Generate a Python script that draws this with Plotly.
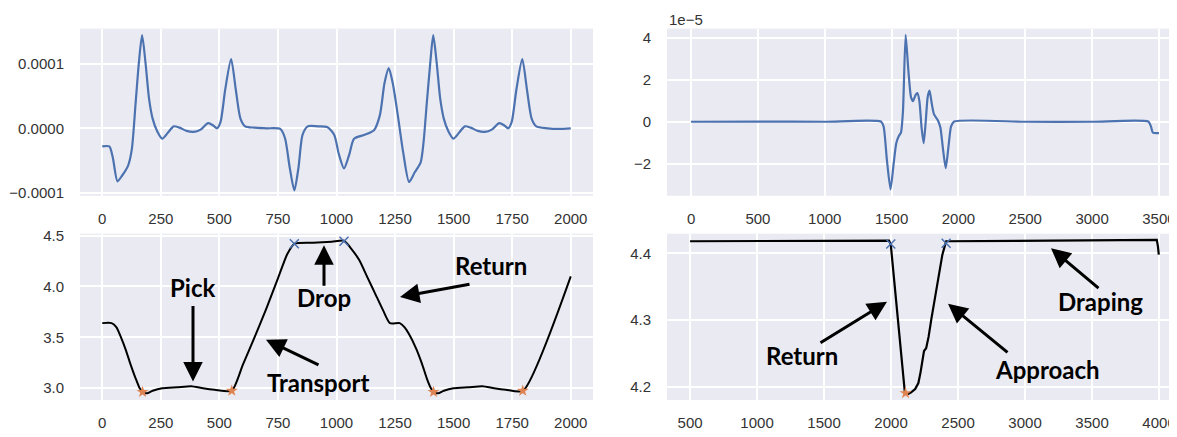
import plotly.graph_objects as go

# page body has an 8px margin; the figure is placed at (8, 8)
OFF = 8
W, H = 1177 - OFF, 437 - OFF

# ---------------- data ----------------
# top-left signal (values in units of 1e-4)
tl_x = [0, 30, 45, 65, 85, 110, 126, 142, 156, 170, 185, 200, 215, 235, 256, 280, 305, 330, 360, 390, 420,
        452, 475, 490, 505, 525, 550, 570, 590, 610, 650, 700, 760, 780, 800, 820, 838, 855, 877, 920, 960,
        990, 1010, 1032, 1055, 1075, 1120, 1160, 1185, 1205, 1223, 1240, 1261, 1285, 1310, 1334, 1359, 1372,
        1385, 1400, 1413, 1428, 1443, 1458, 1478, 1499, 1523, 1548, 1573, 1603, 1633, 1663, 1695, 1718, 1733,
        1748, 1768, 1793, 1813, 1833, 1853, 1900, 1950, 2000]
tl_y = [-0.28, -0.28, -0.45, -0.82, -0.73, -0.58, -0.33, 0.37, 1.0, 1.44, 1.0, 0.45, 0.15, -0.05, -0.16, -0.07,
        0.03, 0.01, -0.04, -0.055, -0.02, 0.08, 0.04, 0.0, 0.1, 0.6, 1.07, 0.6, 0.15, 0.03, 0.01, 0.0, -0.01,
        -0.15, -0.6, -0.96, -0.6, -0.1, 0.03, 0.03, 0.02, -0.1, -0.4, -0.62, -0.4, -0.16, -0.1, -0.03, 0.2, 0.7,
        0.93, 0.7, 0.22, -0.38, -0.83, -0.68, -0.53, -0.2, 0.37, 1.0, 1.44, 1.0, 0.45, 0.15, -0.05, -0.16,
        -0.07, 0.03, 0.01, -0.04, -0.055, -0.02, 0.08, 0.04, 0.0, 0.1, 0.6, 1.07, 0.6, 0.15, 0.03, 0.0, -0.01, 0.0]
TL_SCALE = 1e-4

# top-right signal (values in units of 1e-5)
tr_x = [0, 500, 1000, 1420, 1440, 1465, 1492, 1515, 1535, 1555, 1570, 1585, 1605, 1625, 1645, 1660, 1680,
        1693, 1708, 1725, 1740, 1755, 1770, 1784, 1800, 1817, 1845, 1865, 1885, 1905, 1925, 1945, 1968, 2500,
        3000, 3420, 3440, 3455, 3500]
tr_y = [0.02, 0.03, 0.02, 0.03, -0.2, -1.8, -3.2, -2.0, -1.0, -0.65, -0.5, 0.5, 4.15, 2.5, 1.2, 1.0, 1.3,
        1.38, 1.0, -0.3, -1.0, 0.0, 1.2, 1.5, 0.9, 0.38, 0.1, -0.25, -1.3, -2.18, -1.2, -0.2, 0.03, 0.02,
        0.02, 0.03, -0.2, -0.5, -0.52]
TR_SCALE = 1e-5

# bottom-left position
bl_x = [0, 40, 60, 80, 100, 120, 142, 160, 175, 191, 215, 256, 320, 380, 430, 480, 553, 600, 650, 700, 750,
        790, 820, 900, 980, 1032, 1060, 1097, 1130, 1163, 1200, 1228, 1270, 1290, 1310, 1340, 1365, 1385,
        1403, 1418, 1434, 1458, 1499, 1563, 1623, 1673, 1723, 1796, 2000]
bl_y = [3.64, 3.64, 3.6, 3.5, 3.38, 3.24, 3.1, 3.0, 2.96, 2.95, 2.975, 3.0, 3.01, 3.02, 3.0, 2.985, 2.975,
        3.23, 3.5, 3.78, 4.08, 4.32, 4.42, 4.43, 4.44, 4.45, 4.38, 4.26, 4.1, 3.94, 3.76, 3.64, 3.64, 3.6,
        3.53, 3.39, 3.24, 3.1, 3.0, 2.96, 2.95, 2.975, 3.0, 3.01, 3.02, 3.0, 2.985, 2.975, 4.1]
bl_star_x = [172, 553, 1414, 1795]
bl_star_y = [2.963, 2.975, 2.963, 2.975]
bl_cross_x = [820, 1032]
bl_cross_y = [4.42, 4.445]

# bottom-right position
br_x = [500, 1000, 1500, 1985, 1998, 2050, 2103, 2130, 2150, 2180, 2204, 2220, 2232, 2246, 2262, 2280, 2301,
        2342, 2383, 2411, 3000, 3500, 3983, 3992, 3998]
br_y = [4.418, 4.418, 4.419, 4.419, 4.413, 4.30, 4.192, 4.19, 4.192, 4.197, 4.206, 4.222, 4.24, 4.254,
        4.258, 4.275, 4.302, 4.35, 4.398, 4.418, 4.419, 4.42, 4.42, 4.41, 4.398]
br_star_x = [2108]
br_star_y = [4.191]
br_cross_x = [1998, 2411]
br_cross_y = [4.414, 4.415]

tl_ticks = [-1e-4, 0, 1e-4]
tl_ticktext = ["\u22120.0001", "0.0000", "0.0001"]
tr_ticks = [-2e-5, 0, 2e-5, 4e-5]
tr_ticktext = ["\u22122", "0", "2", "4"]
left_xticks = [0, 250, 500, 750, 1000, 1250, 1500, 1750, 2000]
tr_xticks = [0, 500, 1000, 1500, 2000, 2500, 3000, 3500]
br_xticks = [500, 1000, 1500, 2000, 2500, 3000, 3500, 4000]
bl_yticks = [3.0, 3.5, 4.0, 4.5]
br_yticks = [4.2, 4.3, 4.4]

labels = [  # text, centre px x, centre px y (window pixels)
    ("Pick", 193, 288), ("Drop", 324, 299), ("Return", 491, 266), ("Transport", 318, 386),
    ("Return", 802, 358), ("Approach", 1047, 373), ("Draping", 1100, 303),
]
arrows = [  # head px x, head px y, tail px x, tail px y
    (193, 385, 193, 308), (324, 245, 324, 287), (400, 298, 471, 285), (266, 342, 320, 368),
    (887, 303, 819, 345), (948, 305, 1009, 355), (1051, 248, 1100, 289),
]

# ---------------- figure ----------------
BLUE = "#4C72B0"
ORANGE = "#DD8452"
BG = "#EAEAF2"
TXT = "#333333"


def px(xp):
    return (xp - OFF) / W


def py(yp):
    return 1 - (yp - OFF) / H


fig = go.Figure()
fig.add_trace(go.Scatter(x=tl_x, y=[v * TL_SCALE for v in tl_y], mode="lines",
                         line=dict(color=BLUE, width=2.2, shape="spline", smoothing=0.7),
                         xaxis="x", yaxis="y", showlegend=False))
fig.add_trace(go.Scatter(x=tr_x, y=[v * TR_SCALE for v in tr_y], mode="lines",
                         line=dict(color=BLUE, width=2.2, shape="spline", smoothing=0.6),
                         xaxis="x2", yaxis="y2", showlegend=False))
fig.add_trace(go.Scatter(x=bl_x, y=bl_y, mode="lines",
                         line=dict(color="black", width=2, shape="spline", smoothing=0.6),
                         xaxis="x3", yaxis="y3", showlegend=False))
fig.add_trace(go.Scatter(x=bl_star_x, y=bl_star_y, mode="markers",
                         marker=dict(symbol="star", size=9, color=ORANGE),
                         xaxis="x3", yaxis="y3", showlegend=False))
fig.add_trace(go.Scatter(x=bl_cross_x, y=bl_cross_y, mode="markers",
                         marker=dict(symbol="x-thin", size=9, line=dict(color=BLUE, width=1.5)),
                         xaxis="x3", yaxis="y3", showlegend=False))
fig.add_trace(go.Scatter(x=br_x, y=br_y, mode="lines",
                         line=dict(color="black", width=2.2),
                         xaxis="x4", yaxis="y4", showlegend=False))
fig.add_trace(go.Scatter(x=br_star_x, y=br_star_y, mode="markers",
                         marker=dict(symbol="star", size=9, color=ORANGE),
                         xaxis="x4", yaxis="y4", showlegend=False))
fig.add_trace(go.Scatter(x=br_cross_x, y=br_cross_y, mode="markers",
                         marker=dict(symbol="x-thin", size=9, line=dict(color=BLUE, width=1.5)),
                         xaxis="x4", yaxis="y4", showlegend=False))

xd_left = [px(80), px(593)]
xd_right = [px(667), 1.0]
yd_top = [py(194), py(22)]
yd_bot = [py(404), py(233)]

axis_common = dict(showgrid=True, gridcolor="white", gridwidth=1.5, zeroline=False, showline=False,
                   ticks="outside", tickcolor="rgba(0,0,0,0)",
                   tickfont=dict(family="Liberation Sans, Arial", size=15, color=TXT))

fig.update_layout(
    width=W, height=H, margin=dict(l=0, r=0, t=0, b=0),
    paper_bgcolor="white", plot_bgcolor=BG,
    xaxis=dict(domain=xd_left, anchor="y", range=[-95, 2095], tickvals=left_xticks, ticklen=9, **axis_common),
    yaxis=dict(domain=yd_top, anchor="x", range=[-1.044e-4, 1.542e-4], tickvals=tl_ticks,
               ticktext=tl_ticktext, ticklen=12, **axis_common),
    xaxis2=dict(domain=xd_right, anchor="y2", range=[-180, 3635], tickvals=tr_xticks, ticklen=9,
                **axis_common),
    yaxis2=dict(domain=yd_top, anchor="x2", range=[-3.5e-5, 4.45e-5], tickvals=tr_ticks,
                ticktext=tr_ticktext, ticklen=12, **axis_common),
    xaxis3=dict(domain=xd_left, anchor="y3", range=[-95, 2095], tickvals=left_xticks, ticklen=9, **axis_common),
    yaxis3=dict(domain=yd_bot, anchor="x3", range=[2.885, 4.519], tickvals=bl_yticks,
                ticktext=["3.0", "3.5", "4.0", "4.5"], ticklen=12, **axis_common),
    xaxis4=dict(domain=xd_right, anchor="y4", range=[328, 4134], tickvals=br_xticks, ticklen=9, **axis_common),
    yaxis4=dict(domain=yd_bot, anchor="x4", range=[4.1808, 4.4293], tickvals=br_yticks,
                ticktext=["4.2", "4.3", "4.4"], ticklen=12, **axis_common),
)

annotations = [dict(text="1e\u22125", x=px(667), y=py(13), xref="paper", yref="paper",
                    xanchor="left", yanchor="middle", showarrow=False,
                    font=dict(family="Liberation Sans, Arial", size=15, color=TXT))]
for t, cx, cy in labels:
    annotations.append(dict(text="<b>%s</b>" % t, x=px(cx), y=py(cy), xref="paper", yref="paper",
                            xanchor="center", yanchor="middle", showarrow=False,
                            font=dict(family="Lato", size=24, color="black")))
for hx, hy, tx, ty in arrows:
    annotations.append(dict(text="", x=px(hx), y=py(hy), xref="paper", yref="paper",
                            ax=tx - hx, ay=ty - hy, axref="pixel", ayref="pixel",
                            showarrow=True, arrowhead=2, arrowsize=1.3, arrowwidth=3,
                            arrowcolor="black", standoff=0, startstandoff=0))
fig.update_layout(annotations=annotations)

fig.write_html("out.html")
